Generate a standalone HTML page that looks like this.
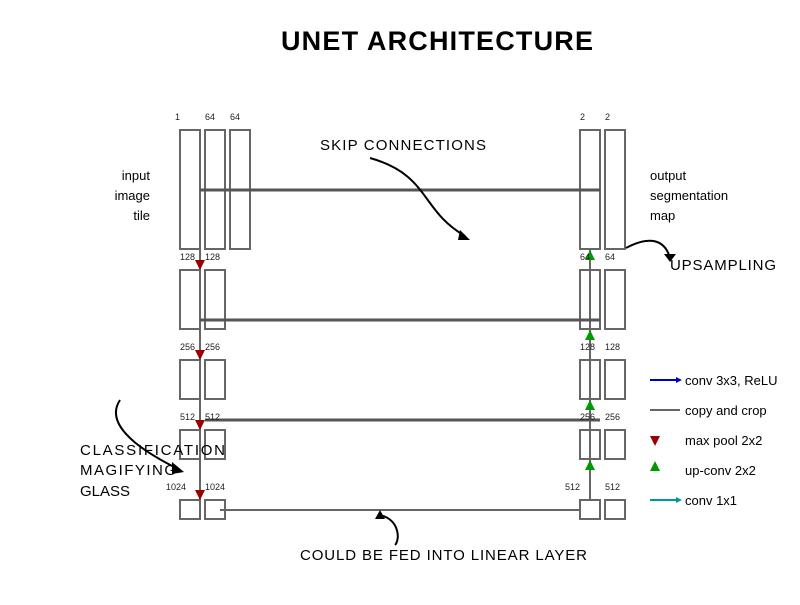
<!DOCTYPE html>
<html><head><style>body{margin:0;background:#fff}</style></head><body>
<svg width="800" height="600" xmlns="http://www.w3.org/2000/svg" font-family="Liberation Sans, sans-serif">
<rect width="800" height="600" fill="#fff"/>
<text x="437" y="50" font-size="27" font-weight="bold" text-anchor="middle" fill="#000" textLength="312">UNET ARCHITECTURE</text>
<g fill="none" stroke="#666" stroke-width="2">
<rect x="180" y="130" width="20" height="119"/><rect x="205" y="130" width="20" height="119"/><rect x="230" y="130" width="20" height="119"/>
<rect x="180" y="270" width="20" height="59"/><rect x="205" y="270" width="20" height="59"/>
<rect x="180" y="360" width="20" height="39"/><rect x="205" y="360" width="20" height="39"/>
<rect x="180" y="430" width="20" height="29"/><rect x="205" y="430" width="20" height="29"/>
<rect x="180" y="500" width="20" height="19"/><rect x="205" y="500" width="20" height="19"/>
<rect x="580" y="130" width="20" height="119"/><rect x="605" y="130" width="20" height="119"/>
<rect x="580" y="270" width="20" height="59"/><rect x="605" y="270" width="20" height="59"/>
<rect x="580" y="360" width="20" height="39"/><rect x="605" y="360" width="20" height="39"/>
<rect x="580" y="430" width="20" height="29"/><rect x="605" y="430" width="20" height="29"/>
<rect x="580" y="500" width="20" height="19"/><rect x="605" y="500" width="20" height="19"/>
<line x1="200" y1="250" x2="200" y2="500"/><line x1="590" y1="250" x2="590" y2="500"/>
<line x1="220" y1="510" x2="580" y2="510"/>
</g>
<g stroke="#555" stroke-width="3">
<line x1="200" y1="190" x2="600" y2="190"/><line x1="200" y1="320" x2="600" y2="320"/><line x1="205" y1="420" x2="600" y2="420"/>
</g>
<g fill="#990000">
<polygon points="195,260 205,260 200,270"/><polygon points="195,350 205,350 200,360"/><polygon points="195,420 205,420 200,430"/><polygon points="195,490 205,490 200,500"/>
<polygon points="650,436 660,436 655,446"/>
</g>
<g fill="#009900">
<polygon points="585,260 595,260 590,250"/><polygon points="585,340 595,340 590,330"/><polygon points="585,410 595,410 590,400"/><polygon points="585,470 595,470 590,460"/>
<polygon points="650,471 660,471 655,461"/>
</g>
<g font-size="9" fill="#222">
<text x="175" y="120">1</text><text x="205" y="120">64</text><text x="230" y="120">64</text>
<text x="180" y="260">128</text><text x="205" y="260">128</text>
<text x="180" y="350">256</text><text x="205" y="350">256</text>
<text x="180" y="420">512</text><text x="205" y="420">512</text>
<text x="166" y="490">1024</text><text x="205" y="490">1024</text>
<text x="580" y="120">2</text><text x="605" y="120">2</text>
<text x="580" y="260">64</text><text x="605" y="260">64</text>
<text x="580" y="350">128</text><text x="605" y="350">128</text>
<text x="580" y="420">256</text><text x="605" y="420">256</text>
<text x="565" y="490">512</text><text x="605" y="490">512</text>
</g>
<g font-size="13" fill="#000">
<text x="150" y="180" text-anchor="end">input</text><text x="150" y="200" text-anchor="end">image</text><text x="150" y="220" text-anchor="end">tile</text>
<text x="650" y="180">output</text><text x="650" y="200">segmentation</text><text x="650" y="220">map</text>
<text x="685" y="385">conv 3x3, ReLU</text><text x="685" y="415">copy and crop</text><text x="685" y="445">max pool 2x2</text><text x="685" y="475">up-conv 2x2</text><text x="685" y="505">conv 1x1</text>
</g>
<g font-size="15" fill="#000">
<text x="320" y="150" textLength="166">SKIP CONNECTIONS</text>
<text x="670" y="270" textLength="106">UPSAMPLING</text>
<text x="80" y="455" textLength="145">CLASSIFICATION</text><text x="80" y="475" textLength="96">MAGIFYING</text><text x="80" y="496">GLASS</text>
<text x="300" y="560" textLength="287">COULD BE FED INTO LINEAR LAYER</text>
</g>
<line x1="650" y1="380" x2="680" y2="380" stroke="#0000cc" stroke-width="2"/><polygon points="676,377 682,380 676,383" fill="#0000cc"/>
<line x1="650" y1="410" x2="680" y2="410" stroke="#666" stroke-width="2"/>
<line x1="650" y1="500" x2="680" y2="500" stroke="#009999" stroke-width="2"/><polygon points="676,497 682,500 676,503" fill="#009999"/>
<g fill="none" stroke="#000" stroke-width="2">
<path d="M370,158 C430,175 420,210 465,236"/>
<path d="M626,248 C650,235 665,240 670,258"/>
<path d="M120,400 C100,430 160,460 180,470"/>
<path d="M380,515 C400,520 400,540 395,545"/>
</g>
<polygon points="460,230 470,240 458,240" fill="#000"/>
<polygon points="664,254 676,254 670,262" fill="#000"/>
<polygon points="172,462 184,472 172,474" fill="#000"/>
<polygon points="375,519 385,519 380,510" fill="#000"/>
</svg>
</body></html>
